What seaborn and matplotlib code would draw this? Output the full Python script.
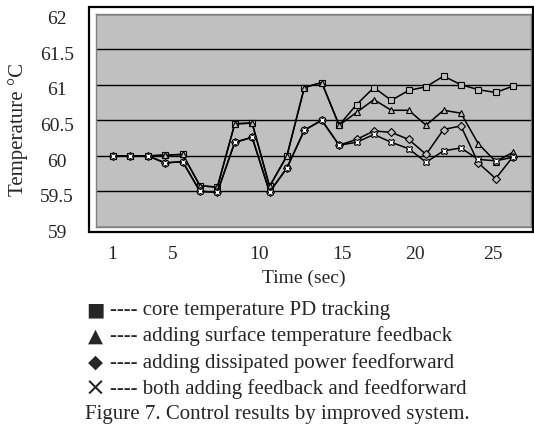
import numpy as np
import pandas as pd
import seaborn as sns
import matplotlib.pyplot as plt
from matplotlib.patches import Rectangle
from matplotlib.transforms import ScaledTranslation

sns.set_style("white")
plt.rcParams["font.family"] = ["Liberation Serif", "DejaVu Sans"]

# sample index (24 samples)
sample = list(range(1, 25))

core_pd = [60.0, 60.0, 60.0, 60.01, 60.02, 59.58, 59.56, 60.45, 60.46, 59.57, 60.0, 60.96,
           61.03, 60.43, 60.72, 60.96, 60.78, 60.92, 60.97, 61.12, 61.0, 60.93, 60.89, 60.98]
surface_fb = [60.0, 60.0, 60.0, 60.01, 60.02, 59.58, 59.56, 60.45, 60.46, 59.57, 60.0, 60.96,
              61.03, 60.43, 60.61, 60.79, 60.64, 60.64, 60.43, 60.64, 60.6, 60.17, 59.92, 60.05]
power_ff = [60.0, 60.0, 60.0, 59.9, 59.92, 59.5, 59.49, 60.19, 60.26, 59.49, 59.83, 60.36,
            60.5, 60.15, 60.23, 60.35, 60.33, 60.23, 60.02, 60.37, 60.42, 59.9, 59.68, 59.99]
both = [60.0, 60.0, 60.0, 59.9, 59.92, 59.5, 59.49, 60.19, 60.26, 59.49, 59.83, 60.36,
        60.5, 60.15, 60.19, 60.3, 60.19, 60.1, 59.91, 60.07, 60.11, 59.95, 59.93, 59.98]

# time labels sit at these sample positions in the original figure
time_tick_pos = [0.94, 4.45, 9.39, 14.16, 18.36, 22.84]
time_tick_labels = ["1", "5", "10", "15", "20", "25"]
y_ticks = [59, 59.5, 60, 60.5, 61, 61.5, 62]
y_tick_labels = ["59", "59.5", "60", "60.5", "61", "61.5", "62"]

legend_symbols = ["\u25a0", "\u25b2", "\u25c6", "\u00d7"]
legend_texts = [
    "---- core temperature PD tracking",
    "---- adding surface temperature feedback",
    "---- adding dissipated power feedforward",
    "---- both adding feedback and feedforward",
]
caption = "Figure 7. Control results by improved system."

series = [
    (core_pd, "s", "#c0c0c0", 5),
    (surface_fb, "^", "#c0c0c0", 5),
    (power_ff, "D", "#c0c0c0", 4),
    (both, "X", "white", 5),
]

W, H = 534, 430
fig = plt.figure(figsize=(W / 100, H / 100), dpi=100)
ax = fig.add_axes([96 / W, 1 - 227 / H, 435 / W, 213.5 / H])
ax.set_facecolor("#c0c0c0")

for vals, marker, face, ms in series:
    df = pd.DataFrame({"t": sample, "temp": vals})
    sns.lineplot(data=df, x="t", y="temp", ax=ax, color="black", linewidth=1.1,
                 marker=marker, markersize=ms, markerfacecolor=face,
                 markeredgecolor="black", markeredgewidth=0.8)

ax.set_xlim(0.023, 25.03)
ax.set_ylim(59, 62)
ax.set_yticks(y_ticks)
ax.set_yticklabels(y_tick_labels)
ax.set_xticks(time_tick_pos)
ax.set_xticklabels(time_tick_labels)
ax.yaxis.grid(True, color="black", linewidth=1.0)
ax.xaxis.grid(False)
ax.tick_params(axis="y", length=0, pad=28, labelsize=14)
ax.tick_params(axis="x", length=0, pad=14, labelsize=14)
for lab in ax.get_yticklabels():
    lab.set_horizontalalignment("center")
    lab.set_transform(lab.get_transform() + ScaledTranslation(0, -3 / 72, fig.dpi_scale_trans))
for sp in ax.spines.values():
    sp.set_color("#808080")
    sp.set_linewidth(1.0)
ax.set_xlabel("")
ax.set_ylabel("")

# outer chart frame
fig.patches.append(Rectangle((89 / W, 1 - 232 / H), 444 / W, 225 / H, transform=fig.transFigure,
                             fill=False, edgecolor="black", linewidth=1.6))

fig.text(18 / W, 1 - 130 / H, "Temperature \u00b0C", rotation=90, ha="center", va="center", fontsize=15)
fig.text(304 / W, 1 - 278 / H, "Time (sec)", ha="center", va="center", fontsize=14)

for i, (sym, txt) in enumerate(zip(legend_symbols, legend_texts)):
    yy = 1 - (310 + i * 26.3) / H
    fig.text(95 / W, yy, sym, ha="center", va="center", fontsize=14 if sym != "\u00d7" else 18,
             family="DejaVu Sans")
    fig.text(110 / W, yy, txt, ha="left", va="center", fontsize=15)
fig.text(85 / W, 1 - 415 / H, caption, ha="left", va="center", fontsize=15)

fig.savefig("out.png", dpi=100)
